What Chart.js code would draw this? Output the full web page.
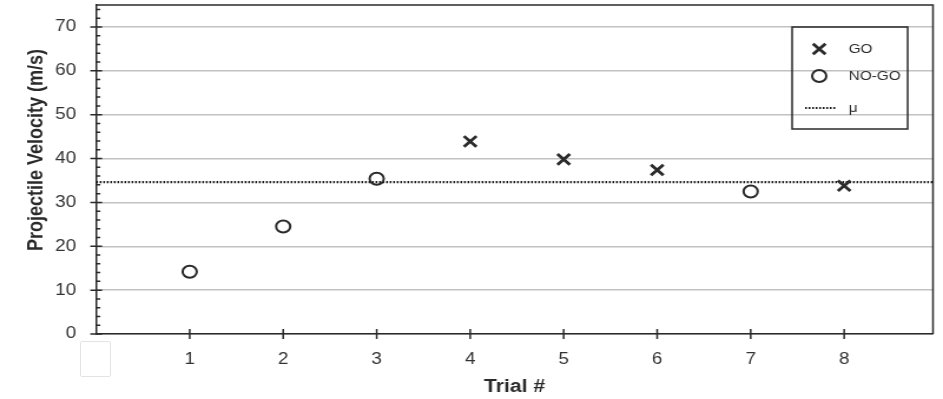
<!DOCTYPE html>
<html>
<head>
<meta charset="utf-8">
<script src="https://cdn.jsdelivr.net/npm/chart.js"></script>
<style>
  html, body { margin: 0; padding: 0; background: #fff; overflow: hidden; }
  #wrap { position: absolute; left: 0; top: 0; width: 800px; height: 399px; transform: scaleX(1.17875); transform-origin: 0 0; }
  #corner { position: absolute; left: 80px; top: 341px; width: 31px; height: 36px; box-sizing: border-box; border: 1px solid #e3e3e3; border-radius: 2px; }
</style>
</head>
<body>
<div id="wrap"><canvas id="velocity" width="800" height="399"></canvas></div>
<div id="corner"></div>
<script>
// trials and measured velocities (m/s)
const goTrials = [4, 5, 6, 8];
const goVelocity = [43.9, 39.8, 37.4, 33.8];
const noGoTrials = [1, 2, 3, 7];
const noGoVelocity = [14.2, 24.5, 35.4, 32.5];
const meanVelocity = 34.6;
const trialTicks = [1, 2, 3, 4, 5, 6, 7, 8];
const trialRange = [0, 8.95];

const ink = '#2a2a2a';
const fontFamily = '"Liberation Sans", Arial, sans-serif';

function points(xs, ys) {
    return xs.map((x, i) => ({ x: x, y: ys[i] }));
}

// fixed axis boxes, no extra label padding
function fixBox(size) {
    return scale => {
        if (scale.isHorizontal()) scale.height = size;
        else scale.width = size;
        scale.paddingTop = scale.paddingBottom = 0;
        scale.paddingLeft = scale.paddingRight = 0;
    };
}

// tick marks, top/right frame, vertical title and the boxed legend
const frame = {
    id: 'frame',
    beforeDatasetsDraw(chart) {
        const ctx = chart.ctx;
        const area = chart.chartArea;
        const x = chart.scales.x;
        const y = chart.scales.y;
        ctx.save();
        ctx.strokeStyle = ink;
        ctx.lineWidth = 1.5;
        ctx.beginPath();
        ctx.moveTo(area.left, area.top);
        ctx.lineTo(area.right, area.top);
        ctx.lineTo(area.right, area.bottom);
        for (let v = 0; v < y.max; v += 2) {
            const py = y.getPixelForValue(v);
            if (v % 10 === 0) {
                ctx.moveTo(area.left - 5, py);
                ctx.lineTo(area.left + 5, py);
            } else {
                ctx.moveTo(area.left, py);
                ctx.lineTo(area.left + 3.5, py);
            }
        }
        trialTicks.forEach(t => {
            const px = x.getPixelForValue(t);
            ctx.moveTo(px, area.bottom - 5);
            ctx.lineTo(px, area.bottom + 5);
        });
        ctx.stroke();
        ctx.restore();
    },
    afterDraw(chart) {
        const ctx = chart.ctx;
        const sets = chart.data.datasets;
        ctx.save();

        // y axis title
        ctx.fillStyle = ink;
        ctx.font = 'bold 18px ' + fontFamily;
        ctx.textAlign = 'center';
        ctx.textBaseline = 'middle';
        ctx.translate(31, 150);
        ctx.rotate(-Math.PI / 2);
        ctx.fillText('Projectile Velocity (m/s)', 0, 0);
        ctx.setTransform(1, 0, 0, 1, 0, 0);

        // legend
        ctx.strokeStyle = ink;
        ctx.lineWidth = 1.5;
        ctx.strokeRect(672, 27, 98, 102);
        const rows = [49, 76, 108];
        ctx.font = '13px ' + fontFamily;
        ctx.textAlign = 'left';
        sets.forEach((ds, i) => {
            const ry = rows[i];
            ctx.strokeStyle = ds.borderColor;
            ctx.fillStyle = 'rgba(0,0,0,0)';
            ctx.lineWidth = ds.borderWidth;
            if (ds.showLine) {
                ctx.setLineDash(ds.borderDash);
                ctx.beginPath();
                ctx.moveTo(683, ry);
                ctx.lineTo(710, ry);
                ctx.stroke();
                ctx.setLineDash([]);
            } else {
                Chart.helpers.drawPoint(ctx, {
                    pointStyle: ds.pointStyle,
                    radius: ds.pointRadius,
                    borderWidth: ds.borderWidth,
                    rotation: 0
                }, 695, ry);
            }
            ctx.fillStyle = ink;
            ctx.fillText(ds.label, 720, ry);
        });
        ctx.restore();
    }
};

const ctx = document.getElementById('velocity').getContext('2d');

const velocityChart = new Chart(ctx, {
    type: 'scatter',
    data: {
        datasets: [{
            label: 'GO',
            data: points(goTrials, goVelocity),
            pointStyle: 'crossRot',
            pointRadius: 7.5,
            borderWidth: 2.8,
            borderColor: ink,
            backgroundColor: 'rgba(0,0,0,0)'
        }, {
            label: 'NO-GO',
            data: points(noGoTrials, noGoVelocity),
            pointStyle: 'circle',
            pointRadius: 6,
            borderWidth: 2,
            borderColor: ink,
            backgroundColor: 'rgba(0,0,0,0)'
        }, {
            label: 'μ',
            data: trialRange.map(t => ({ x: t, y: meanVelocity })),
            showLine: true,
            pointRadius: 0,
            borderWidth: 2.2,
            borderDash: [1.5, 1.5],
            borderColor: '#151515'
        }]
    },
    options: {
        responsive: false,
        animation: false,
        devicePixelRatio: 1,
        layout: {
            autoPadding: false,
            padding: { top: 5, right: 8.5, left: 0, bottom: 0 }
        },
        plugins: {
            legend: { display: false },
            tooltip: { enabled: false }
        },
        scales: {
            x: {
                type: 'linear',
                min: trialRange[0],
                max: trialRange[1],
                afterFit: fixBox(65),
                grid: { display: false },
                border: { display: true, color: ink, width: 1.5 },
                ticks: {
                    stepSize: 1,
                    padding: 8,
                    maxRotation: 0,
                    autoSkip: false,
                    color: '#333',
                    font: { family: fontFamily, size: 16 },
                    callback: v => trialTicks.includes(v) ? v : ''
                },
                title: {
                    display: true,
                    text: 'Trial #',
                    color: ink,
                    padding: { top: 0, bottom: 1 },
                    font: { family: fontFamily, size: 18, weight: 'bold' }
                }
            },
            y: {
                min: 0,
                max: 75,
                afterFit: fixBox(81.6),
                grid: { color: '#c2c2c2', lineWidth: 1.5, drawTicks: false },
                border: { display: true, color: ink, width: 1.5 },
                ticks: {
                    stepSize: 10,
                    includeBounds: false,
                    padding: 17,
                    color: '#333',
                    font: { family: fontFamily, size: 16 }
                }
            }
        }
    },
    plugins: [frame]
});
</script>
</body>
</html>
